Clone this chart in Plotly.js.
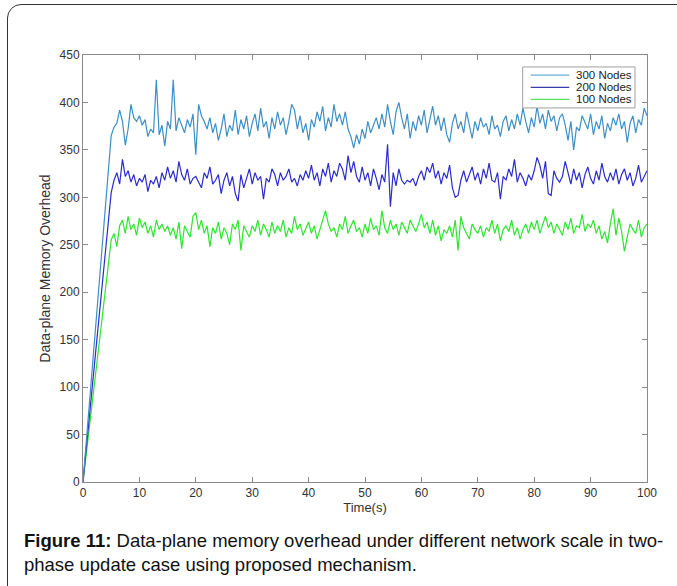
<!DOCTYPE html>
<html>
<head>
<meta charset="utf-8">
<script src="https://cdn.plot.ly/plotly-3.0.1.min.js"></script>
<style>
  html, body { margin: 0; padding: 0; background: #fff; overflow: hidden; }
  #frame { position: absolute; left: 7px; top: 4px; width: 720px; height: 640px;
           border: 1.3px solid #333; border-radius: 14px; box-sizing: border-box; }
  #chart { position: absolute; left: 0; top: 0; width: 677px; height: 586px; }
</style>
</head>
<body>
<div id="frame"></div>
<div id="chart"></div>
<script>
// Time axis: first sample at t=0, steady-state samples from t=5 s every 0.5 s up to 100 s
const tStart = 5;
const tStep = 0.5;

const seriesNames = ["300 Nodes", "200 Nodes", "100 Nodes"];

// 300 Nodes (values from t=5 to t=100, step 0.5)
const nodes300 = [
  365,374,378,392,380,355,372,398,384,380,
  386,376,382,364,372,368,424,366,376,354,
  380,372,424,370,384,376,368,382,374,388,
  345,398,386,380,372,384,368,378,360,372,
  388,364,376,370,392,366,382,372,386,364,
  378,388,370,394,374,380,362,384,372,390,
  376,384,366,380,398,392,372,386,368,378,
  360,382,374,390,380,396,370,384,374,398,
  380,388,376,390,372,364,352,366,356,372,
  362,380,368,376,384,372,388,374,398,380,
  366,390,400,384,372,388,362,380,370,386,
  376,392,368,382,396,376,386,370,384,366,
  358,378,388,372,380,368,390,376,362,380,
  370,384,374,378,366,386,372,376,364,380,
  386,370,382,372,388,376,394,380,368,384,
  374,396,378,388,372,392,380,386,370,384,
  388,376,360,380,350,374,370,386,378,372,
  388,366,380,372,386,362,378,370,384,376,
  388,372,380,358,378,386,368,382,376,394,
  386
];

// 200 Nodes
const nodes200 = [
  305,318,326,314,340,322,328,316,324,312,
  320,316,324,306,318,314,322,310,326,318,
  332,320,328,316,338,324,318,330,314,320,
  322,316,310,326,320,332,314,318,324,304,
  318,326,312,322,304,296,324,310,320,330,
  314,326,318,322,298,320,316,330,324,312,
  326,318,322,330,316,320,312,324,318,328,
  320,334,318,326,312,330,322,336,316,328,
  322,336,330,318,344,326,338,322,316,332,
  318,326,312,330,320,308,324,316,356,290,
  326,312,330,318,314,318,316,320,312,322,
  328,318,332,326,336,320,328,314,326,320,
  334,310,300,302,318,328,316,324,332,318,
  326,314,330,320,336,318,316,326,298,322,
  318,330,322,340,316,326,320,312,324,318,
  328,342,334,320,338,304,302,328,320,316,
  322,338,326,314,330,318,326,310,324,332,
  320,314,328,318,336,322,316,326,318,330,
  314,324,330,318,326,312,320,334,316,322,
  328
];

// 100 Nodes
const nodes100 = [
  255,262,248,270,276,262,280,266,272,260,
  278,268,274,262,270,258,276,266,272,264,
  270,260,268,256,274,246,270,264,258,280,
  284,266,276,262,270,248,268,262,274,256,
  268,262,250,272,266,276,244,270,264,258,
  270,264,276,260,272,266,258,274,262,270,
  264,276,258,268,262,280,266,272,260,268,
  274,262,270,256,266,276,286,272,264,268,
  258,272,266,280,262,270,276,264,268,258,
  272,262,278,266,270,260,286,268,262,276,
  266,272,260,274,268,262,276,270,264,272,
  282,268,274,262,276,260,270,254,266,262,
  270,258,276,244,280,268,262,256,272,266,
  262,270,258,268,264,276,262,272,254,266,
  270,264,276,260,268,256,266,272,262,274,
  266,276,262,270,280,268,274,262,272,266,
  260,274,266,278,262,270,268,282,264,272,
  268,276,262,270,256,264,252,272,288,260,
  278,264,243,258,272,266,262,276,258,268,
  272
];

const seriesValues = [nodes300, nodes200, nodes100];
const seriesColors = ["#3d8fc6", "#2b2bd0", "#2ee52e"];
const legendColors = ["#6aaedc", "#3a3aaa", "#5ee05e"];

const xTicks = [0,10,20,30,40,50,60,70,80,90,100];
const yTicks = [0,50,100,150,200,250,300,350,400,450];

function times(n) {
  const t = [0];
  for (let i = 0; i < n; i++) t.push(tStart + tStep * i);
  return t;
}

const traces = seriesValues.map((vals, k) => ({
  type: "scatter",
  mode: "lines",
  name: seriesNames[k],
  x: times(vals.length),
  y: [0].concat(vals),
  line: { color: seriesColors[k], width: 1.2 },
  showlegend: false,
  hoverinfo: "skip"
}));
traces.reverse();

// custom legend (MATLAB-style compact box)
const legX0 = 0.7796, legX1 = 0.9787, legY0 = 0.876, legY1 = 0.972;
const lineX0 = 0.7938, lineX1 = 0.8622, textX = 0.8706;
const rowY = [0.953, 0.924, 0.896];

const shapes = [{
  type: "rect", xref: "paper", yref: "paper",
  x0: legX0, x1: legX1, y0: legY0, y1: legY1,
  line: { color: "#a0a0a0", width: 1 }, fillcolor: "#ffffff"
}];
const annotations = [];
seriesNames.forEach((nm, k) => {
  shapes.push({
    type: "line", xref: "paper", yref: "paper",
    x0: lineX0, x1: lineX1, y0: rowY[k], y1: rowY[k],
    line: { color: legendColors[k], width: 1.2 }
  });
  annotations.push({
    xref: "paper", yref: "paper", x: textX, y: rowY[k],
    xanchor: "left", yanchor: "middle", showarrow: false,
    text: nm, font: { family: "Liberation Sans, Arial, sans-serif", size: 11.5, color: "#222" }
  });
});

annotations.push({
  xref: "paper", yref: "paper", x: -0.108, y: -0.108,
  xanchor: "left", yanchor: "top", align: "left", showarrow: false,
  text: "<b>Figure 11:</b> Data-plane memory overhead under different network scale in two-<br>phase update case using proposed mechanism.",
  font: { family: "Liberation Sans, Arial, sans-serif", size: 18.5, color: "#111" }
});

const axisCommon = {
  showgrid: false, zeroline: false,
  showline: true, linecolor: "#8a8a8a", linewidth: 1, mirror: "ticks",
  ticks: "inside", ticklen: 5, tickwidth: 1, tickcolor: "#8a8a8a",
  tickfont: { family: "Liberation Sans, Arial, sans-serif", size: 12, color: "#333" }
};

const layout = {
  width: 677, height: 586,
  margin: { l: 83, r: 30, t: 55, b: 104, pad: 0 },
  paper_bgcolor: "rgba(0,0,0,0)",
  plot_bgcolor: "#ffffff",
  showlegend: false,
  xaxis: Object.assign({}, axisCommon, {
    range: [0, 100], tickvals: xTicks, ticktext: xTicks.map(String),
    title: { text: "Time(s)", standoff: 2,
             font: { family: "Liberation Sans, Arial, sans-serif", size: 13, color: "#333" } }
  }),
  yaxis: Object.assign({}, axisCommon, {
    range: [0, 450], tickvals: yTicks, ticktext: yTicks.map(String),
    title: { text: "Data-plane Memory Overhead", standoff: 5,
             font: { family: "Liberation Sans, Arial, sans-serif", size: 14, color: "#333" } }
  }),
  shapes: shapes,
  annotations: annotations
};

Plotly.newPlot("chart", traces, layout, { staticPlot: true, displayModeBar: false });
</script>
</body>
</html>
